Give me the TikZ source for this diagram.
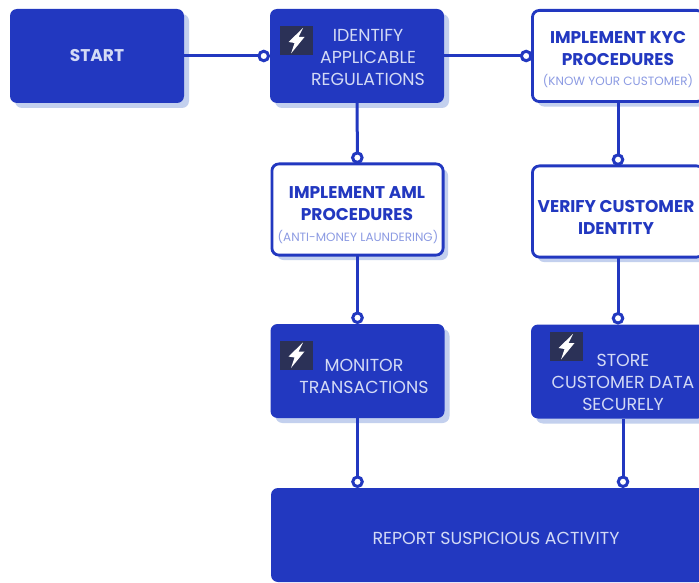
\documentclass[tikz,border=0pt]{standalone}
\usepackage{fontspec}
\setmainfont{Poppins}
\usetikzlibrary{arrows.meta,shadows}

\definecolor{flowBlue}{HTML}{2238C0}
\definecolor{paleBlue}{HTML}{C3D0EE}
\definecolor{softText}{HTML}{D3DAF5}
\definecolor{noteText}{HTML}{8C9BE3}
\definecolor{iconDark}{HTML}{2B3157}

\tikzset{
    boxbase/.style={rounded corners=7pt, minimum width=\boxWidth pt, minimum height=\boxHeight pt, outer sep=0pt,
        drop shadow={shadow xshift=5pt, shadow yshift=-5pt, fill=paleBlue, opacity=1}},
    solidbox/.style={boxbase, fill=flowBlue},
    outlinebox/.style={boxbase, draw=flowBlue, line width=2.8pt, fill=white, minimum width=\boxWidth pt-2.8pt, minimum height=\boxHeight pt-2.8pt},
    softlabel/.style={text=softText, align=center, font=\fontsize{17.4}{22}\selectfont},
    boldlabel/.style={text=flowBlue, align=center, font=\fontsize{17}{22}\selectfont\bfseries},
    notelabel/.style={text=noteText, font=\fontsize{12}{14}\selectfont},
    link/.style={draw=flowBlue, line width=3pt, -{Circle[open, fill=white, length=12.5pt, width=12.5pt, line width=3pt]}},
    bolticon/.pic={
        \fill[iconDark] (-16.5,-14.5) rectangle (16.5,14.5);
        \fill[white] (6.5,-12.5) -- (-8,1.5) -- (-2,2.5) -- (-5.5,13) -- (8,-3.5) -- (2,-3.5) -- cycle;
    }
}

\begin{document}
\begin{tikzpicture}[x=1pt, y=-1pt]
    % variables
    \def\boxWidth{174}
    \def\boxHeight{94}

    % Page
    \path[use as bounding box, clip] (0,0) rectangle (699,583);
    \fill[white] (0,0) rectangle (699,583);

    % Connector points
    \coordinate (storeOut) at (623,419);

    % Boxes
    \node[solidbox] (start) at (97,56) {};
    \node[solidbox] (identify) at (357,56) {};
    \node[outlinebox] (kyc) at (618,56) {};
    \node[outlinebox] (aml) at (357.5,209.5) {};
    \node[outlinebox] (verify) at (618,211.5) {};
    \node[solidbox] (monitor) at (357.5,371) {};
    \node[solidbox] (store) at (618,371.5) {};
    \node[rounded corners=7pt, fill=flowBlue, minimum width=434pt, minimum height=94pt, outer sep=0pt] (report) at (488,535) {};

    % Connectors
    \draw[link] (start) -- (identify);
    \draw[link] (identify) -- (kyc);
    \draw[link] (identify) -- (aml);
    \draw[link] (kyc) -- (verify);
    \draw[link] (aml) -- (monitor);
    \draw[link] (verify) -- (store);
    \draw[link] (monitor) -- (monitor |- report.north);
    \draw[link] (storeOut) -- (storeOut |- report.north);

    % Icons
    \pic at (296.5,40.5) {bolticon};
    \pic at (296.5,355) {bolticon};
    \pic at (566.5,346.5) {bolticon};

    % Labels
    \node[text=softText, font=\fontsize{17}{22}\selectfont\bfseries] (startText) at (97,56) {START};
    \node[softlabel] (identifyText) at (368,57) {IDENTIFY\\APPLICABLE\\REGULATIONS};
    \node[boldlabel] (kycText) at (618,49) {IMPLEMENT KYC\\PROCEDURES};
    \node[notelabel] (kycNote) at (618,81.5) {(KNOW YOUR CUSTOMER)};
    \node[boldlabel] (amlText) at (357,204) {IMPLEMENT AML\\PROCEDURES};
    \node[notelabel] (amlNote) at (358,237) {(ANTI-MONEY LAUNDERING)};
    \node[boldlabel] (verifyText) at (616,217) {VERIFY CUSTOMER\\IDENTITY};
    \node[softlabel] (monitorText) at (364,376) {MONITOR\\TRANSACTIONS};
    \node[softlabel] (storeText) at (623,382) {STORE\\CUSTOMER DATA\\SECURELY};
    \node[softlabel] (reportText) at (496,538) {REPORT SUSPICIOUS ACTIVITY};
\end{tikzpicture}
\end{document}
